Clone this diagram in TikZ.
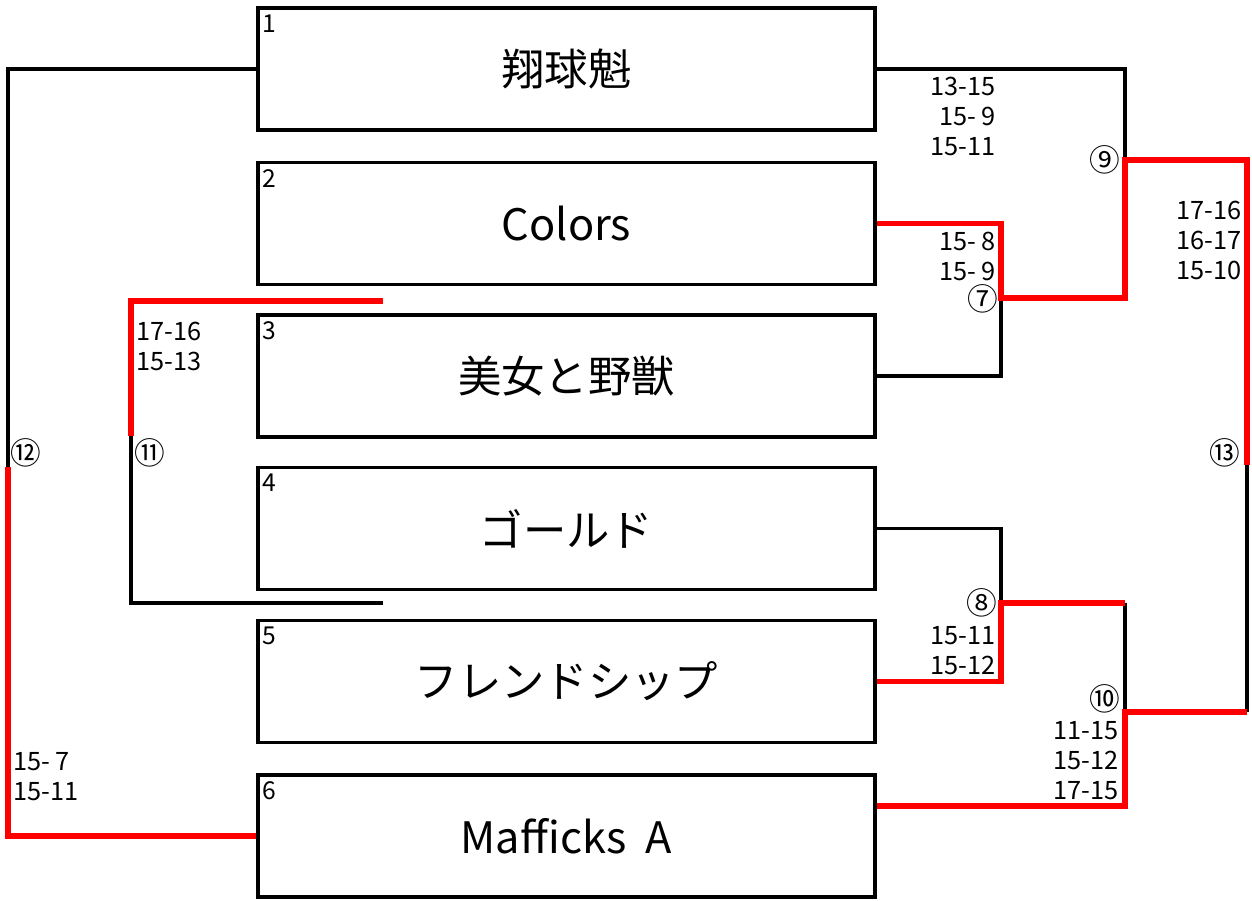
\documentclass[tikz,border=0pt]{standalone}
\usepackage{fontspec}
\setmainfont{Noto Sans CJK JP}
\usetikzlibrary{calc}
\begin{document}
\begin{tikzpicture}[x=0.75pt,y=-0.75pt,
  team/.style={draw=black,line width=2.4pt,minimum width=462.75pt,minimum height=91.5pt,inner sep=0pt,font=\fontsize{32.5}{36}\selectfont},
  bl/.style={draw=black,line width=2.4pt},
  rd/.style={draw=red,line width=3.9pt},
  score/.style={inner sep=0pt,align=right,font=\fontsize{19}{22.5}\selectfont},
  scorel/.style={inner sep=0pt,align=left,font=\fontsize{19}{22.5}\selectfont},
  circ/.style={inner sep=0pt,font=\fontsize{23}{26}\selectfont},
  num/.style={inner sep=0pt,anchor=north west,font=\fontsize{18.5}{21}\selectfont}]
\fill[white] (0,0) rectangle (1252,900);
\useasboundingbox (0,0) rectangle (1252,900);

% teams
\node[team] (b1) at (566.5,69) {翔球魁};
\node[team] (b2) at (566.5,223.5) {Colors};
\node[team] (b3) at (566.5,376) {美女と野獣};
\node[team] (b4) at (566.5,528.5) {ゴールド};
\node[team] (b5) at (566.5,681.5) {フレンドシップ};
\node[team] (b6) at (566.5,836) {Mafficks\ \ A};

\node[num] (n1) at ($(b1.north west)+(6,8)$) {1};
\node[num] (n2) at ($(b2.north west)+(6,8)$) {2};
\node[num] (n3) at ($(b3.north west)+(6,8)$) {3};
\node[num] (n4) at ($(b4.north west)+(6,8)$) {4};
\node[num] (n5) at ($(b5.north west)+(6,8)$) {5};
\node[num] (n6) at ($(b6.north west)+(6,8)$) {6};

% match points
\coordinate (m7) at (1001,298);
\coordinate (m8) at (1001,603);
\coordinate (m9) at (1125,160);
\coordinate (m10) at (1125,712);
\coordinate (m11) at (131,436);
\coordinate (m12) at (8,467);
\coordinate (m13) at (1247,465);
\coordinate (t11) at (383,301);
\coordinate (u11) at (383,603);

% black (losing) lines
\draw[bl] (b1.east) -| (m9);
\draw[bl] (b1.west) -| (m12);
\draw[bl] (b3.east) -| (m7);
\draw[bl] (b4.east) -| (m8);
\draw[bl] (m8 -| m10) -- (m10);
\draw[bl] (m10 -| m13) -- (m13);
\draw[bl] (m11) |- (u11);

% red (winning) lines
\draw[rd] (b2.east) -| (m7) -| (m9) -| (m13);
\draw[rd] (b5.east) -| (m8) -- (m8 -| m10);
\draw[rd] (b6.east |- 0,806) -| (m10) -- (m10 -| m13);
\draw[rd] (t11) -| (m11);
\draw[rd] (m12) |- (b6.west);

% match numbers
\node[circ] (c7) at (983,299) {⑦};
\node[circ] (c8) at (982,603) {⑧};
\node[circ] (c9) at (1105,160) {⑨};
\node[circ] (c10) at (1105,699) {⑩};
\node[circ] (c11) at (150,453) {⑪};
\node[circ] (c12) at (26,453) {⑫};
\node[circ] (c13) at (1225,453) {⑬};

% scores
\node[score,anchor=east] (s9) at (996,116) {13-15\\15-~9\\15-11};
\node[score,anchor=east] (s7) at (996,256) {15-~8\\15-~9};
\node[score,anchor=east] (s13) at (1242,240) {17-16\\16-17\\15-10};
\node[score,anchor=east] (s8) at (996,651) {15-11\\15-12};
\node[score,anchor=east] (s10) at (1119,761) {11-15\\15-12\\17-15};
\node[scorel,anchor=west] (s11) at (136,346) {17-16\\15-13};
\node[scorel,anchor=west] (s12) at (13,777) {15-~7\\15-11};
\end{tikzpicture}
\end{document}
